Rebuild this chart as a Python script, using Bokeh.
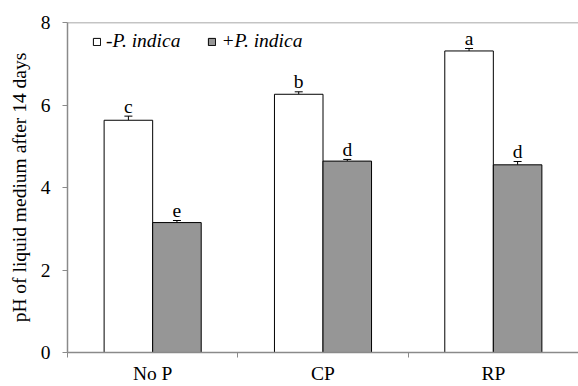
from bokeh.plotting import figure
from bokeh.models import (ColumnDataSource, FixedTicker, Whisker, TeeHead,
                          Legend, LegendItem, Span)
from bokeh.core.properties import value
from bokeh.embed import file_html
from bokeh.resources import INLINE

# ---- data ----
categories = ["No P", "CP", "RP"]
ph_minus = [5.63, 6.26, 7.31]
ph_plus = [3.15, 4.64, 4.55]
err_minus = [0.10, 0.06, 0.06]
err_plus = [0.05, 0.04, 0.08]
letters_minus = ["c", "b", "a"]
letters_plus = ["e", "d", "d"]
series_labels = ["-P. indica", "+P. indica"]
y_ticks = [0, 2, 4, 6, 8]

# ---- style ----
FONT = "Liberation Serif"
FS = "19.5px"
AXIS_GRAY = "#8a8a8a"
BAR_GRAY = "#969696"
BW = 0.285

n = len(categories)
idx = list(range(n))

p = figure(width=578, height=386, x_range=(-0.5, n - 0.5), y_range=(y_ticks[0], y_ticks[-1]),
           output_backend="svg", toolbar_location=None,
           min_border_left=67, min_border_right=0, min_border_top=22, min_border_bottom=30)
p.outline_line_color = None
p.xgrid.grid_line_color = None
p.ygrid.grid_line_color = None
p.background_fill_color = "white"
p.border_fill_color = "white"

def make_source(vals, errs, letters, shift):
    return ColumnDataSource(dict(
        x=[i + shift for i in idx],
        top=vals,
        upper=[v + e for v, e in zip(vals, errs)],
        letter=letters,
    ))

src_m = make_source(ph_minus, err_minus, letters_minus, -BW / 2)
src_p = make_source(ph_plus, err_plus, letters_plus, BW / 2)

r_m = p.vbar(x="x", top="top", width=BW, source=src_m, fill_color="white",
             line_color="black", line_width=1)
r_p = p.vbar(x="x", top="top", width=BW, source=src_p, fill_color=BAR_GRAY,
             line_color="black", line_width=1)

for src in (src_m, src_p):
    w = Whisker(base="x", lower="top", upper="upper", source=src,
                line_color="black", line_width=1,
                upper_head=TeeHead(size=8, line_color="black", line_width=1),
                lower_head=None)
    p.add_layout(w)
    p.text(x="x", y="upper", text="letter", source=src,
           text_font=value(FONT), text_font_size=FS, text_color="black",
           text_align="center", text_baseline="alphabetic", y_offset=-10)

# top border line
p.add_layout(Span(location=y_ticks[-1], dimension="width", line_color=AXIS_GRAY, line_width=1.5))

# axes
p.xaxis.ticker = FixedTicker(ticks=idx, minor_ticks=[i - 0.5 for i in range(n + 1)])
p.xaxis.major_label_overrides = {i: c for i, c in zip(idx, categories)}
p.xaxis.major_tick_line_color = None
p.xaxis.minor_tick_line_color = AXIS_GRAY
p.xaxis.minor_tick_in = 0
p.xaxis.minor_tick_out = 5
p.xaxis.major_label_standoff = 4

p.yaxis.ticker = FixedTicker(ticks=y_ticks)
p.yaxis.minor_tick_line_color = None
p.yaxis.major_tick_in = 0
p.yaxis.major_tick_out = 5
p.yaxis.major_tick_line_color = AXIS_GRAY
p.yaxis.major_label_standoff = 12
p.yaxis.axis_label = "pH of liquid medium after 14 days"
p.yaxis.axis_label_text_font = FONT
p.yaxis.axis_label_text_font_size = FS
p.yaxis.axis_label_text_font_style = "normal"
p.yaxis.axis_label_text_color = "black"
p.yaxis.axis_label_standoff = 8

for ax in (p.xaxis, p.yaxis):
    ax.axis_line_color = AXIS_GRAY
    ax.axis_line_width = 1.5
    ax.major_label_text_font = FONT
    ax.major_label_text_font_size = FS
    ax.major_label_text_color = "black"

legend = Legend(items=[LegendItem(label=series_labels[0], renderers=[r_m]),
                       LegendItem(label=series_labels[1], renderers=[r_p])],
                orientation="horizontal", location=(25, 300),
                label_text_font=FONT, label_text_font_style="italic",
                label_text_font_size=FS, label_text_color="black",
                glyph_width=9, glyph_height=9, label_standoff=5, spacing=27,
                padding=0, margin=0, border_line_color=None,
                background_fill_alpha=0)
p.add_layout(legend)

open("out.html", "w").write(file_html(p, INLINE))
